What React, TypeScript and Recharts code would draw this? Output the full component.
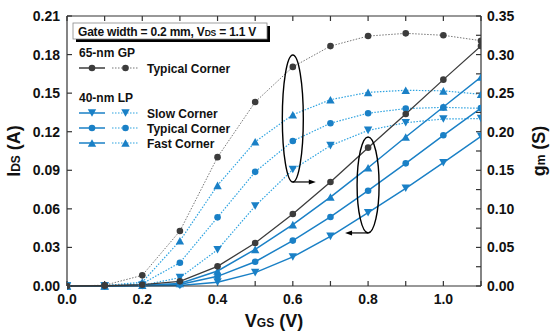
import React from 'react';
import { LineChart, Line, XAxis, YAxis, ReferenceDot } from 'recharts';

// gate voltage sweep (V)
const vgs = [0, 0.1, 0.2, 0.3, 0.4, 0.5, 0.6, 0.7, 0.8, 0.9, 1.0, 1.1];

// 65-nm GP, typical corner
const idsGP = [0, 0.0002, 0.001, 0.0036, 0.0153, 0.0334, 0.056, 0.0809, 0.1076, 0.1338, 0.1605, 0.1867];
const gmGP = [0, 0.001, 0.0138, 0.0713, 0.167, 0.2385, 0.284, 0.311, 0.324, 0.3275, 0.325, 0.318];

// 40-nm LP corners
const idsSlow = [0, 0, 0.0002, 0.0004, 0.003, 0.0104, 0.0226, 0.0386, 0.057, 0.076, 0.0959, 0.1164];
const idsTyp = [0, 0, 0.0004, 0.0012, 0.0075, 0.0189, 0.0353, 0.0537, 0.0741, 0.0954, 0.1172, 0.1384];
const idsFast = [0, 0, 0.0006, 0.002, 0.0117, 0.0285, 0.0477, 0.0692, 0.092, 0.1159, 0.1392, 0.1625];
const gmSlow = [0, 0, 0.001, 0.0108, 0.047, 0.1037, 0.151, 0.182, 0.2017, 0.2117, 0.2165, 0.217];
const gmTyp = [0, 0, 0.003, 0.0302, 0.089, 0.148, 0.188, 0.211, 0.224, 0.23, 0.2316, 0.2303];
const gmFast = [0, 0.0005, 0.005, 0.0586, 0.1305, 0.187, 0.222, 0.2415, 0.251, 0.2537, 0.253, 0.2485];

const xTicks = [0, 0.1, 0.2, 0.3, 0.4, 0.5, 0.6, 0.7, 0.8, 0.9, 1.0, 1.1];
const leftTicks = [0, 0.03, 0.06, 0.09, 0.12, 0.15, 0.18, 0.21];
const rightTicks = [0, 0.025, 0.05, 0.075, 0.1, 0.125, 0.15, 0.175, 0.2, 0.225, 0.25, 0.275, 0.3, 0.325, 0.35];

const data = vgs.map((v, i) => ({
    v,
    idsGP: idsGP[i], gmGP: gmGP[i],
    idsSlow: idsSlow[i], idsTyp: idsTyp[i], idsFast: idsFast[i],
    gmSlow: gmSlow[i], gmTyp: gmTyp[i], gmFast: gmFast[i],
}));

const FONT = '"Liberation Sans", Arial, sans-serif';
const GRAY = '#3c3c3c';
const BLUE = '#1a80c6';
const LBLUE = '#2ea3e0';
const AXIS = '#333';

const tickStyle = { fontSize: 14, fontWeight: 'bold' as const, fill: '#111', fontFamily: FONT };

type Shape = 'circle' | 'up' | 'down';

const Marker = ({ x, y, shape, color }: { x: number; y: number; shape: Shape; color: string }) => {
    if (shape === 'circle') return <circle cx={x} cy={y} r={3.3} fill={color} />;
    const h = 3.8;
    const pts = shape === 'up'
        ? `${x - 4.2},${y + h} ${x + 4.2},${y + h} ${x},${y - h}`
        : `${x - 4.2},${y - h} ${x + 4.2},${y - h} ${x},${y + h}`;
    return <polygon points={pts} fill={color} />;
};

const dot = (shape: Shape, color: string) => (p: any) => (
    <Marker key={p.key ?? `${p.index}`} x={p.cx} y={p.cy} shape={shape} color={color} />
);

const noTick = () => <g />;

// ellipse grouping points with an arrow towards the related axis
const bracket = (rx: number, ry: number, dir: 1 | -1) => (p: any) => {
    const { cx, cy } = p;
    const by = cy + ry;
    const end = cx + dir * 23;
    return (
        <g>
            <ellipse cx={cx} cy={cy} rx={rx} ry={ry} fill="none" stroke="#000" strokeWidth={1.4} />
            <line x1={cx} y1={by} x2={end - dir * 5} y2={by} stroke="#000" strokeWidth={1.2} />
            <polygon points={`${end},${by} ${end - dir * 7},${by - 2.5} ${end - dir * 7},${by + 2.5}`} fill="#000" />
        </g>
    );
};

const LegendRow = ({ y, shape, solid, dotted, label }: { y: number; shape: Shape; solid: string; dotted: string; label: string }) => (
    <g>
        <line x1={79} x2={105} y1={y} y2={y} stroke={solid} strokeWidth={1.5} />
        <Marker x={92} y={y} shape={shape} color={solid} />
        <line x1={112} x2={139} y1={y} y2={y} stroke={dotted} strokeWidth={1.2} strokeDasharray="1.5 1.5" />
        <Marker x={125.5} y={y} shape={shape} color={solid === GRAY ? GRAY : BLUE} />
        <text x={147} y={y + 4.5} fontSize={12} fontWeight="bold" fill="#111" fontFamily={FONT}>{label}</text>
    </g>
);

const Overlay = () => (
    <svg width={550} height={335} style={{ position: 'absolute', left: 0, top: 0, pointerEvents: 'none' }}>
        {/* condition box */}
        <rect x={76} y={26} width={194} height={16} fill="#000" />
        <rect x={73} y={23} width={194} height={16} fill="#fff" stroke="#888" strokeWidth={0.8} />
        <text x={78} y={35.5} fontSize={12} letterSpacing={-0.2} fontWeight="bold" fill="#111" fontFamily={FONT}>
            Gate width = 0.2 mm, V<tspan fontSize={8.5}>DS</tspan> = 1.1 V
        </text>

        <text x={79} y={56.5} fontSize={12} fontWeight="bold" fill="#111" fontFamily={FONT}>65-nm GP</text>
        <LegendRow y={68} shape="circle" solid={GRAY} dotted="#777" label="Typical Corner" />
        <text x={79} y={101.5} fontSize={12} fontWeight="bold" fill="#111" fontFamily={FONT}>40-nm LP</text>
        <LegendRow y={113} shape="down" solid={BLUE} dotted={LBLUE} label="Slow Corner" />
        <LegendRow y={128} shape="circle" solid={BLUE} dotted={LBLUE} label="Typical Corner" />
        <LegendRow y={143} shape="up" solid={BLUE} dotted={LBLUE} label="Fast Corner" />

        {/* axis titles */}
        <text transform="translate(20,151) rotate(-90)" textAnchor="middle" fontSize={18} fontWeight="bold" fill="#111" fontFamily={FONT}>
            I<tspan fontSize={12}>DS</tspan> (A)
        </text>
        <text transform="translate(545,151) rotate(-90)" textAnchor="middle" fontSize={18} fontWeight="bold" fill="#111" fontFamily={FONT}>
            g<tspan fontSize={12}>m</tspan> (S)
        </text>
        <text x={274} y={327} textAnchor="middle" fontSize={18} fontWeight="bold" fill="#111" fontFamily={FONT}>
            V<tspan fontSize={12}>GS</tspan> (V)
        </text>
    </svg>
);

export default function App() {
    return (
        <div style={{ position: 'absolute', left: 0, top: 0, width: 550, height: 335, background: '#fff' }}>
            <LineChart width={550} height={335} data={data} margin={{ top: 15, right: 19, bottom: 19, left: 17 }}>
                <XAxis dataKey="v" type="number" domain={[0, 1.1]} ticks={xTicks} allowDataOverflow
                    tickSize={-5} tickMargin={13} height={30}
                    tickFormatter={(v: number) => (Math.round(v * 10) % 2 === 0 ? v.toFixed(1) : '')}
                    tick={tickStyle} stroke={AXIS} strokeWidth={1.2} />
                <XAxis xAxisId="top" orientation="top" dataKey="v" type="number" domain={[0, 1.1]} ticks={xTicks}
                    tickSize={-5} height={1} tick={noTick} stroke={AXIS} strokeWidth={1.2} />
                <YAxis yAxisId="left" domain={[0, 0.21]} ticks={leftTicks} width={50}
                    tickSize={-5} tickMargin={12} tickFormatter={(v: number) => v.toFixed(2)}
                    tick={tickStyle} stroke={AXIS} strokeWidth={1.2} />
                <YAxis yAxisId="right" orientation="right" domain={[0, 0.35]} ticks={rightTicks} width={50}
                    tickSize={-5} tickMargin={11}
                    tickFormatter={(v: number) => (Math.round(v * 1000) % 50 === 0 ? v.toFixed(2) : '')}
                    tick={tickStyle} stroke={AXIS} strokeWidth={1.2} />

                <Line yAxisId="right" dataKey="gmSlow" stroke={LBLUE} strokeWidth={1.2} strokeDasharray="1.5 1.5" dot={dot('down', BLUE)} isAnimationActive={false} />
                <Line yAxisId="right" dataKey="gmTyp" stroke={LBLUE} strokeWidth={1.2} strokeDasharray="1.5 1.5" dot={dot('circle', BLUE)} isAnimationActive={false} />
                <Line yAxisId="right" dataKey="gmFast" stroke={LBLUE} strokeWidth={1.2} strokeDasharray="1.5 1.5" dot={dot('up', BLUE)} isAnimationActive={false} />
                <Line yAxisId="left" dataKey="idsSlow" stroke={BLUE} strokeWidth={1.5} dot={dot('down', BLUE)} isAnimationActive={false} />
                <Line yAxisId="left" dataKey="idsTyp" stroke={BLUE} strokeWidth={1.5} dot={dot('circle', BLUE)} isAnimationActive={false} />
                <Line yAxisId="left" dataKey="idsFast" stroke={BLUE} strokeWidth={1.5} dot={dot('up', BLUE)} isAnimationActive={false} />
                <Line yAxisId="right" dataKey="gmGP" stroke="#777" strokeWidth={1} strokeDasharray="1.5 1.5" dot={dot('circle', GRAY)} isAnimationActive={false} />
                <Line yAxisId="left" dataKey="idsGP" stroke={GRAY} strokeWidth={1.3} dot={dot('circle', GRAY)} isAnimationActive={false} />

                <ReferenceDot yAxisId="left" x={0.6} y={0.1303} shape={bracket(10.5, 63.5, 1)} />
                <ReferenceDot yAxisId="left" x={0.8} y={0.0786} shape={bracket(11, 48, -1)} />
            </LineChart>
            <Overlay />
        </div>
    );
}
